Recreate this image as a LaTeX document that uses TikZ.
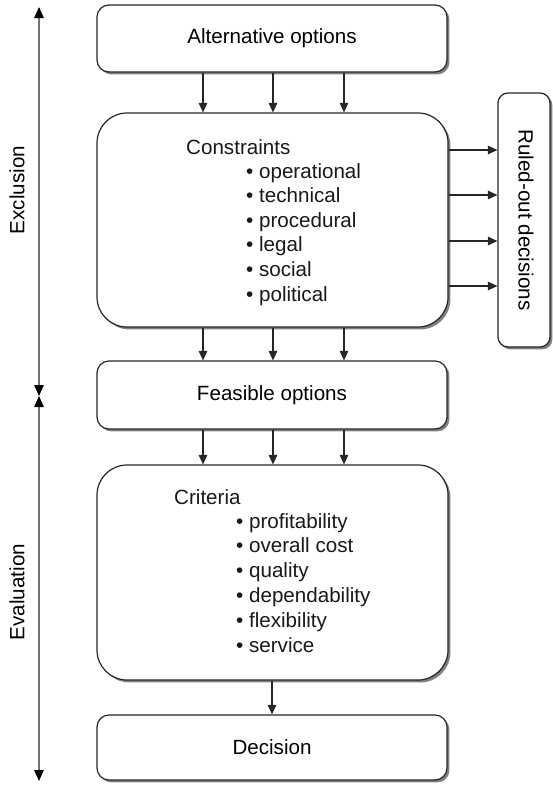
\documentclass[tikz,border=0pt]{standalone}
\usepackage{fontspec}
\setmainfont{Liberation Sans}
\usetikzlibrary{arrows.meta,shadows}
\begin{document}
\begin{tikzpicture}[x=1pt,y=-1pt,
  font=\fontsize{20.6}{24}\selectfont,
  box/.style={draw=black!85, line width=1.2pt, fill=white, rounded corners=12pt,
    general shadow={fill=black!50, shadow xshift=2.4pt, shadow yshift=-2.4pt},
    minimum width=350pt, inner sep=0pt},
  bigbox/.style={box, rounded corners=30pt},
  txt/.style={anchor=base west, inner sep=0pt, text=black!90},
  arr/.style={-{Triangle[length=9.5pt,width=8.5pt]}, line width=1.1pt, draw=black!85},
  axis/.style={{Triangle[length=11pt,width=9.5pt,color=black]}-{Triangle[length=11pt,width=9.5pt,color=black]}, draw=black!55, line width=1.3pt}
]
\useasboundingbox (0,0) rectangle (552,785);

% boxes
\node[box, minimum height=67pt] (alt) at (272,38.5) {Alternative options};
\node[bigbox, minimum width=351pt, minimum height=214pt] (con) at (272.5,220) {};
\node[box, minimum height=68pt] (fea) at (272,395) {Feasible options};
\node[bigbox, minimum width=351pt, minimum height=215pt] (cri) at (272.5,572.5) {};
\node[box, minimum height=65pt] (dec) at (272,747.5) {Decision};
\node[box, rounded corners=10pt, minimum width=52pt, minimum height=254pt] (rul) at (524,220) {};
\node[rotate=-90, inner sep=0pt] (rultxt) at (526,220) {Ruled-out decisions};

% constraints text
\node[txt] (ctitle) at (186,154) {Constraints};
\foreach \t [count=\i] in {operational,technical,procedural,legal,social,political}
  \node[txt] (cl\i) at (246,{178+24.6*(\i-1)}) {\textbullet\ \t};

% criteria text
\node[txt] (rtitle) at (174,504) {Criteria};
\foreach \t [count=\i] in {profitability,overall cost,quality,dependability,flexibility,service}
  \node[txt] (rl\i) at (236,{528+24.8*(\i-1)}) {\textbullet\ \t};

% vertical arrows
\coordinate (v1) at (203,0);
\coordinate (v2) at (273,0);
\coordinate (v3) at (344,0);
\foreach \v in {v1,v2,v3} {
  \draw[arr] (alt.south -| \v) -- (con.north -| \v);
  \draw[arr] (con.south -| \v) -- (fea.north -| \v);
  \draw[arr] (fea.south -| \v) -- (cri.north -| \v);
}
\coordinate (v4) at (272,0);
\draw[arr] (cri.south -| v4) -- (dec.north -| v4);

% horizontal arrows to ruled-out
\coordinate (h1) at (0,150);
\coordinate (h2) at (0,195);
\coordinate (h3) at (0,241);
\coordinate (h4) at (0,286);
\foreach \h in {h1,h2,h3,h4}
  \draw[arr] (con.east |- \h) -- (rul.west |- \h);

% left axis
\coordinate (atop) at (39,7);
\coordinate (amid) at (39,396);
\coordinate (abot) at (39,781);
\draw[axis] (atop) -- (amid);
\draw[axis] (amid) -- (abot);
\node[rotate=90, inner sep=0pt] (exl) at (17,190) {Exclusion};
\node[rotate=90, inner sep=0pt] (evl) at (17,592) {Evaluation};
\end{tikzpicture}
\end{document}
